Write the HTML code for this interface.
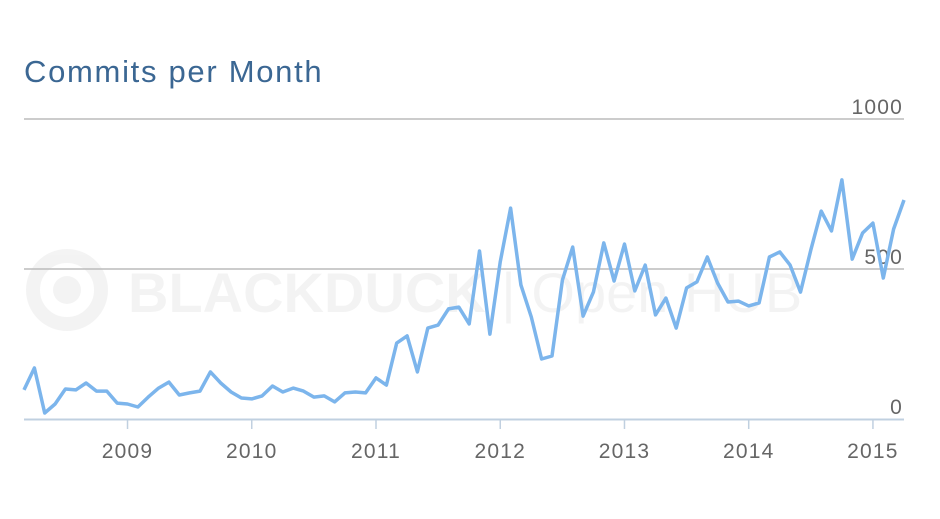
<!DOCTYPE html>
<html><head><meta charset="utf-8"><style>
body{margin:0;background:#fff;width:940px;height:514px;overflow:hidden;font-family:"Liberation Sans",sans-serif}
</style></head><body>
<svg width="940" height="514">
<text x="24" y="82" font-size="31" letter-spacing="1.7" fill="#3b6793" font-family="Liberation Sans, sans-serif">Commits per Month</text>
<g opacity="0.045">
<circle cx="67" cy="290" r="34" fill="none" stroke="#000" stroke-width="14"/>
<circle cx="67" cy="290" r="14" fill="#000"/>
<text x="128" y="312" font-size="56" fill="#000" font-family="Liberation Sans, sans-serif"><tspan font-weight="bold">BLACKDUCK</tspan> | Open HUB</text>
</g>
<g id="grid"></g><g id="xaxis"></g>
<path id="line" fill="none" stroke="#7cb5ec" stroke-width="3.5" stroke-linejoin="round"/>
</svg>
<script>
const values=[97,170,20,50,100,97,120,93,93,53,50,40,73,103,123,80,87,93,157,120,90,70,67,77,110,90,103,93,73,77,57,87,90,87,137,113,253,277,157,303,313,367,373,317,560,283,523,703,447,340,200,210,463,573,343,423,587,460,583,427,513,347,403,303,437,457,540,453,390,393,377,387,540,557,513,423,563,693,627,797,533,620,653,470,633,730];
const startYear=2008, startMonth=2; // March 2008 (0-based month)
const yTicks=[0,500,1000];
const xYears=[2009,2010,2011,2012,2013,2014,2015];
const x0=24,x1=904,pxMonth=(x1-x0)/(values.length-1);
const X=i=>x0+i*pxMonth;
const XY=yr=>X((yr-startYear)*12-startMonth);
const Y=v=>419-v*0.3;
const ns="http://www.w3.org/2000/svg";
const grid=document.getElementById('grid'),xa=document.getElementById('xaxis');
yTicks.forEach(t=>{
 if(t>0){const l=document.createElementNS(ns,'line');
 l.setAttribute('x1',24);l.setAttribute('x2',904);l.setAttribute('y1',Y(t));l.setAttribute('y2',Y(t));
 l.setAttribute('stroke','#bbb');l.setAttribute('stroke-width','1.5');
 
 
 grid.appendChild(l);}
 const tx=document.createElementNS(ns,'text');
 tx.setAttribute('x',903);tx.setAttribute('y',Y(t)-5);tx.setAttribute('text-anchor','end');
 tx.setAttribute('font-size','21');tx.setAttribute('letter-spacing','1.2');tx.setAttribute('fill','#666');tx.textContent=t;
 
 
 grid.appendChild(tx);
});
const base=document.createElementNS(ns,'line');
base.setAttribute('x1',24);base.setAttribute('x2',904);base.setAttribute('y1',419.5);base.setAttribute('y2',419.5);
base.setAttribute('stroke','#c0d0e0');base.setAttribute('stroke-width','2');


xa.appendChild(base);
xYears.forEach(yr=>{
 const x=XY(yr);
 const l=document.createElementNS(ns,'line');
 l.setAttribute('x1',x);l.setAttribute('x2',x);l.setAttribute('y1',419);l.setAttribute('y2',429);
 l.setAttribute('stroke','#c0d0e0');l.setAttribute('stroke-width','1.5');
 
 
 xa.appendChild(l);
 const tx=document.createElementNS(ns,'text');
 tx.setAttribute('x',x);tx.setAttribute('y',458);tx.setAttribute('text-anchor','middle');
 tx.setAttribute('font-size','21');tx.setAttribute('letter-spacing','1.2');tx.setAttribute('fill','#666');tx.textContent=yr;
 
 
 xa.appendChild(tx);
});
document.getElementById('line').setAttribute('d',values.map((v,i)=>(i?'L':'M')+X(i).toFixed(1)+' '+Y(v).toFixed(1)).join(' '));
</script>
</body></html>
